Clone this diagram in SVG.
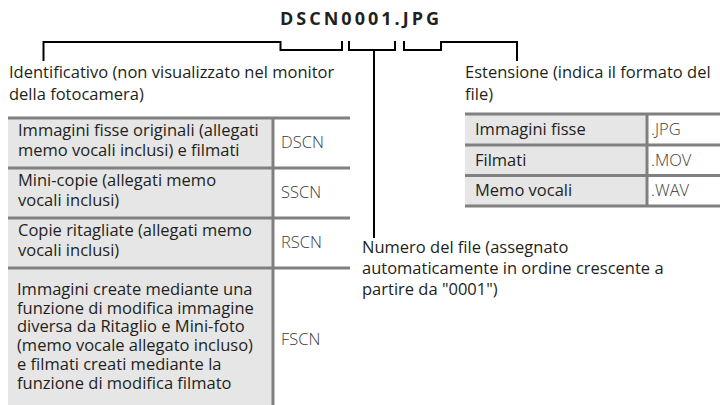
<svg xmlns="http://www.w3.org/2000/svg" width="720" height="405" viewBox="0 0 720 405">
<style>
  text { font-family: "Open Sans", "Noto Sans", "DejaVu Sans", sans-serif; fill: #231f20; }
  .t { font-size: 16.5px; }
  .code { font-size: 16.5px; font-weight: 300; fill: #3a3a3a; }
  .title { font-size: 18px; font-weight: bold; letter-spacing: 3px; }
  .cell { fill: #e6e6e6; }
  .rule { stroke: #808080; stroke-width: 3; fill: none; }
  .conn { stroke: #000; stroke-width: 2; fill: none; stroke-linecap: square; }
</style>
<rect width="720" height="405" fill="#fff"/>

<g id="title">
  <text class="title" x="280" y="25" textLength="162">DSCN0001.JPG</text>
</g>

<g id="connectors">
  <path class="conn" d="M43.5,60 V42 H280.5 V50 H342 V42"/>
  <path class="conn" d="M349,42 V50 H395 V42"/>
  <path class="conn" d="M374,50 V237"/>
  <path class="conn" d="M404,42 V50 H441 V42 H517 V60"/>
</g>

<g id="label-identificativo">
  <text class="t" x="9" y="78">Identificativo (non visualizzato nel monitor</text>
  <text class="t" x="9" y="99.5">della fotocamera)</text>
</g>

<g id="label-estensione">
  <text class="t" x="465" y="78">Estensione (indica il formato del</text>
  <text class="t" x="465" y="99.5">file)</text>
</g>

<g id="label-numero">
  <text class="t" x="362" y="253">Numero del file (assegnato</text>
  <text class="t" x="362" y="274">automaticamente in ordine crescente a</text>
  <text class="t" x="362" y="294.5">partire da "0001")</text>
</g>

<g id="table-identificativo">
  <rect class="cell" x="8" y="118" width="265" height="287"/>
  <path class="rule" d="M8,118 H350 M8,168 H350 M8,218 H350 M8,268 H350 M273,118 V405"/>
  <text class="t" x="18" y="136">Immagini fisse originali (allegati</text>
  <text class="t" x="18" y="156">memo vocali inclusi) e filmati</text>
  <text class="code" x="281" y="148">DSCN</text>
  <text class="t" x="18" y="186">Mini-copie (allegati memo</text>
  <text class="t" x="18" y="206">vocali inclusi)</text>
  <text class="code" x="281" y="198">SSCN</text>
  <text class="t" x="18" y="236">Copie ritagliate (allegati memo</text>
  <text class="t" x="18" y="256">vocali inclusi)</text>
  <text class="code" x="281" y="248">RSCN</text>
  <text class="t" x="17" y="295">Immagini create mediante una</text>
  <text class="t" x="17" y="313.7">funzione di modifica immagine</text>
  <text class="t" x="17" y="332.4">diversa da Ritaglio e Mini-foto</text>
  <text class="t" x="17" y="351.1">(memo vocale allegato incluso)</text>
  <text class="t" x="17" y="369.8">e filmati creati mediante la</text>
  <text class="t" x="17" y="388.5">funzione di modifica filmato</text>
  <text class="code" x="281" y="345">FSCN</text>
</g>

<g id="table-estensione">
  <rect class="cell" x="465" y="114" width="182" height="92"/>
  <path class="rule" d="M465,114 H720 M465,145 H720 M465,175.5 H720 M465,206 H720 M647,114 V206"/>
  <text class="t" x="475" y="135">Immagini fisse</text>
  <text class="code" x="651" y="135">.JPG</text>
  <text class="t" x="475" y="165.5">Filmati</text>
  <text class="code" x="651" y="165.5">.MOV</text>
  <text class="t" x="475" y="196">Memo vocali</text>
  <text class="code" x="651" y="196">.WAV</text>
</g>
</svg>
